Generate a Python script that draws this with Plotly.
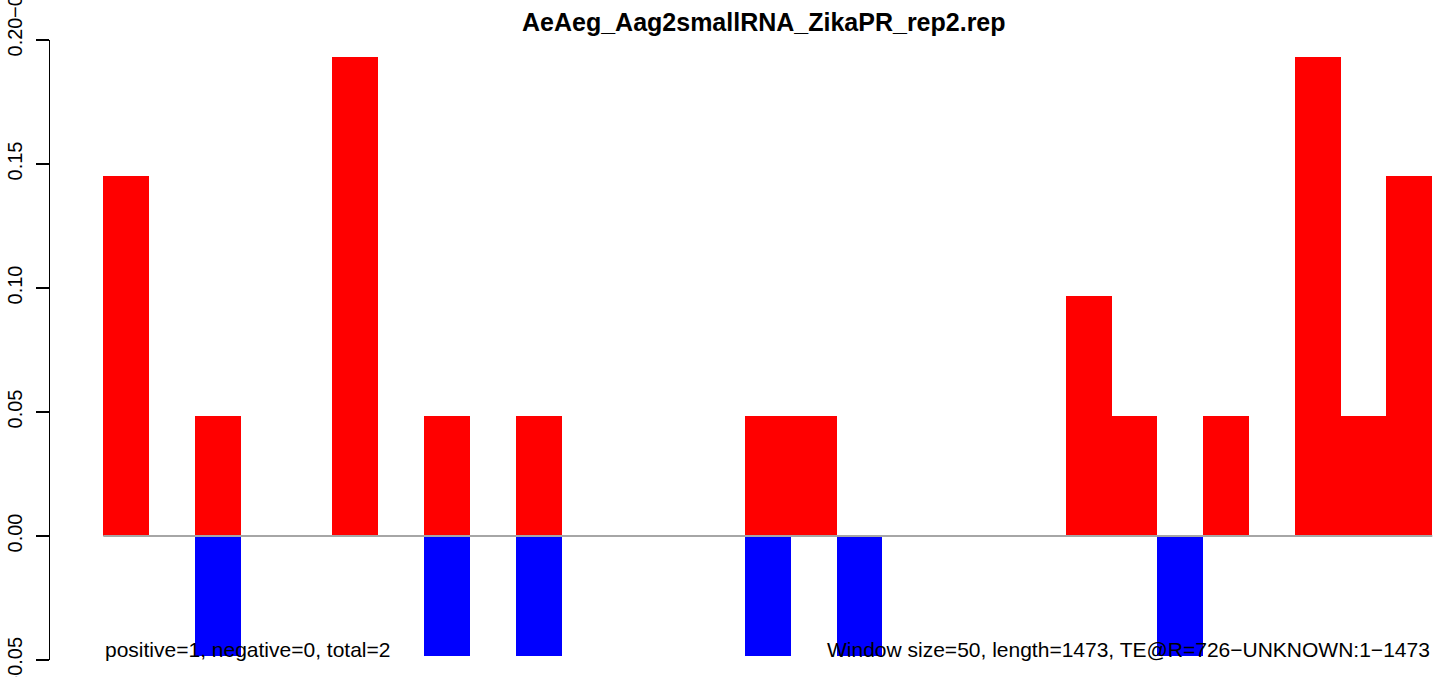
import plotly.graph_objects as go

# Data (29 windows of size 50)
bins = list(range(29))
positive = [0.145, 0, 0.0483, 0, 0, 0.193, 0, 0.0483, 0, 0.0483,
            0, 0, 0, 0, 0.0483, 0.0483, 0, 0, 0, 0,
            0, 0.0966, 0.0483, 0, 0.0483, 0, 0.193, 0.0483, 0.145]
negative = [0, 0, -0.0483, 0, 0, 0, 0, -0.0483, 0, -0.0483,
            0, 0, 0, 0, -0.0483, 0, -0.0483, 0, 0, 0,
            0, 0, 0, -0.0483, 0, 0, 0, 0, 0]
y_ticks = [-0.05, 0.00, 0.05, 0.10, 0.15, 0.20]
y_tick_labels = ["-0.05", "0.00", "0.05", "0.10", "0.15", "0.20"]
title = "AeAeg_Aag2smallRNA_ZikaPR_rep2.rep"
left_note = "positive=1, negative=0, total=2"
right_note = "Window size=50, length=1473, TE@R=726\u2212UNKNOWN:1\u22121473"

W, H = 1444, 677
L, R, T, B = 50, 0, 40, 17
pw, ph = W - L - R, H - T - B
bw = 1329 / 29.0
x_left = -0.5 - (103.3 - L) / bw
x_right = x_left + pw / bw

def px2paper_x(px):
    return (px - L) / pw

def py2paper_y(py):
    return (H - B - py) / ph

FONT = "Liberation Sans, Arial, Helvetica, sans-serif"

fig = go.Figure()
fig.add_trace(go.Bar(x=bins, y=positive, width=1, marker=dict(color="#FF0000", line=dict(width=0)),
                     showlegend=False, hoverinfo="skip"))
fig.add_trace(go.Bar(x=bins, y=negative, width=1, marker=dict(color="#0000FF", line=dict(width=0)),
                     showlegend=False, hoverinfo="skip"))

fig.add_shape(type="line", xref="x", yref="y", x0=-0.5, x1=28.5, y0=0, y1=0,
              line=dict(color="#A6A6A6", width=2), layer="above")

# tick label for the lowest tick is drawn as an annotation (it runs off the page bottom)
shown_labels = [("" if v == y_ticks[0] else t) for v, t in zip(y_ticks, y_tick_labels)]

fig.update_layout(
    width=W, height=H,
    margin=dict(l=L, r=R, t=T, b=B, pad=0),
    paper_bgcolor="white", plot_bgcolor="white",
    barmode="relative", bargap=0,
    font=dict(family=FONT, color="black", size=20),
    xaxis=dict(range=[x_left, x_right], visible=False, showgrid=False, zeroline=False),
    yaxis=dict(range=[-0.05, 0.20], showgrid=False, zeroline=False,
               showline=True, linecolor="black", linewidth=1.5,
               ticks="outside", ticklen=13, tickwidth=1.5, tickcolor="black",
               tickvals=y_ticks, ticktext=shown_labels, tickangle=-90,
               tickfont=dict(family=FONT, size=20, color="black"),
               ticklabelstandoff=6, automargin=False),
)

fig.add_annotation(text=y_tick_labels[0], xref="paper", yref="y", textangle=-90,
                   x=px2paper_x(14.5), y=y_ticks[0], xanchor="center", yanchor="middle",
                   showarrow=False, font=dict(family=FONT, size=20, color="black"))
fig.add_annotation(text="<b>" + title + "</b>", xref="paper", yref="paper",
                   x=px2paper_x(764), y=py2paper_y(22), xanchor="center", yanchor="middle",
                   showarrow=False, font=dict(family=FONT, size=25, color="black"))
fig.add_annotation(text=left_note, xref="paper", yref="paper",
                   x=px2paper_x(103), y=py2paper_y(649), xanchor="left", yanchor="middle",
                   showarrow=False, font=dict(family=FONT, size=21, color="black"))
fig.add_annotation(text=right_note, xref="paper", yref="paper",
                   x=px2paper_x(1432), y=py2paper_y(649), xanchor="right", yanchor="middle",
                   showarrow=False, font=dict(family=FONT, size=21, color="black"))
fig.add_annotation(text="\u22120.05", xref="paper", yref="paper", textangle=-90,
                   x=px2paper_x(14.5), y=py2paper_y(20), xanchor="center", yanchor="bottom",
                   showarrow=False, font=dict(family=FONT, size=20, color="black"))

fig.write_html("out.html", config={"displayModeBar": False, "staticPlot": True},
               post_script="document.body.style.margin='0';document.body.style.padding='0';document.body.style.overflow='hidden';")
